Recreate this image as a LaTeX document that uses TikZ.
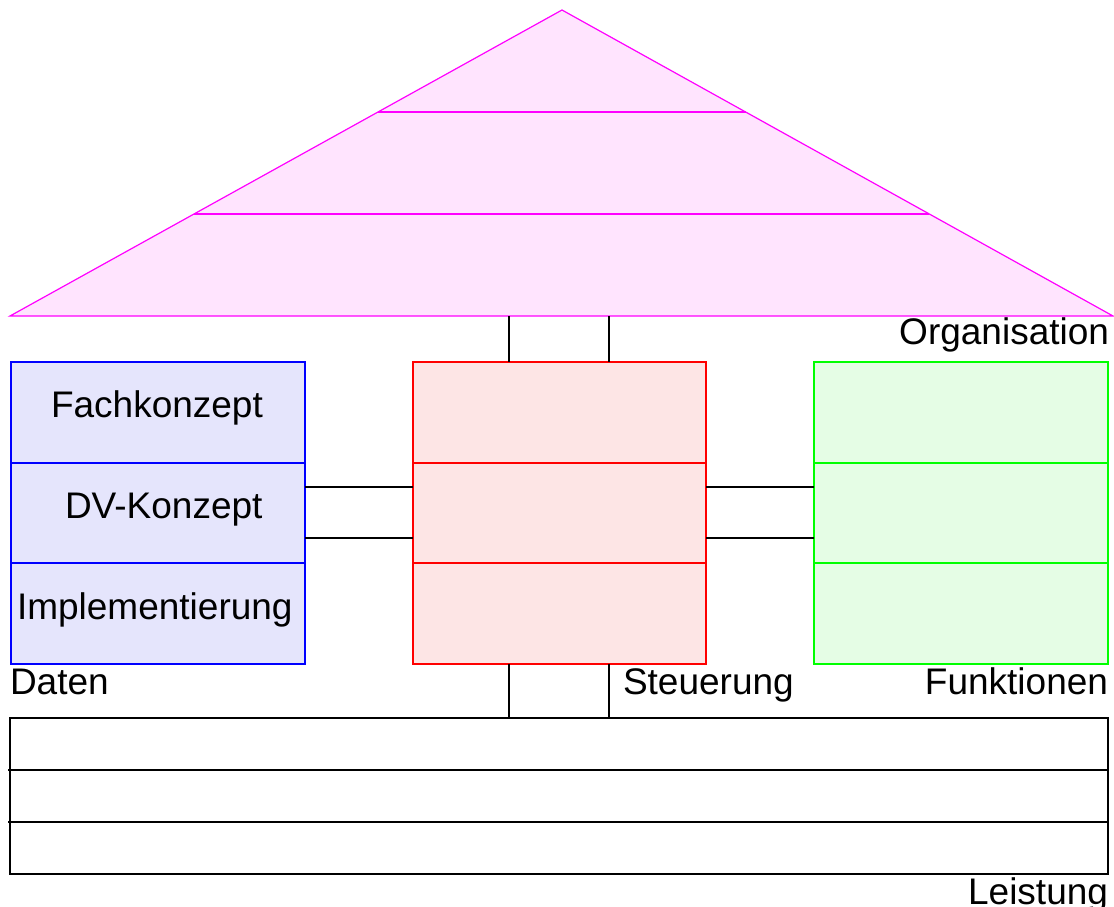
\documentclass[tikz,border=0pt]{standalone}
\usepackage{fontspec}
\setmainfont{Liberation Sans}
\usetikzlibrary{calc,backgrounds}
\definecolor{roofline}{RGB}{255,0,255}
\definecolor{rooffill}{RGB}{255,228,254}
\definecolor{bluefill}{RGB}{229,229,252}
\definecolor{redfill}{RGB}{253,229,229}
\definecolor{greenfill}{RGB}{229,253,229}
\definecolor{bluel}{RGB}{0,0,255}
\definecolor{redl}{RGB}{255,0,0}
\definecolor{greenl}{RGB}{0,255,0}
\begin{document}
\begin{tikzpicture}[x=1pt,y=-1pt,
  cell/.style={draw, line width=1.4pt, inner sep=0pt, outer sep=0pt, minimum height=101pt},
  mid/.style={minimum height=100pt},
  dcell/.style={cell, draw=bluel, minimum width=294pt},
  scell/.style={cell, draw=redl, minimum width=293pt},
  fcell/.style={cell, draw=greenl, minimum width=294pt},
  lcell/.style={draw=black, line width=1.4pt, inner sep=0pt, outer sep=0pt, minimum width=1098pt, minimum height=52pt},
  conn/.style={draw=black, line width=1.4pt},
  txt/.style={inner sep=0pt, outer sep=0pt, font=\fontsize{37}{40}\selectfont}
]
\useasboundingbox (0,0) rectangle (1114,906);
% roof
\coordinate (apex) at (562,10);
\coordinate (bl) at (10,316);
\coordinate (br) at (1113,316);
\draw[draw=roofline, fill=rooffill, line width=1.2pt, line join=miter] (apex) -- (br) -- (bl) -- cycle;
\draw[draw=roofline, line width=1.2pt] ($(apex)!0.3333!(bl)$) -- ($(apex)!0.3333!(br)$);
\draw[draw=roofline, line width=1.2pt] ($(apex)!0.6667!(bl)$) -- ($(apex)!0.6667!(br)$);
\node[txt, anchor=base east] (org) at (1109,344) {Organisation};
% data
\node[dcell] (d1) at (158,412.5) {};
\node[dcell, mid] (d2) at (158,513) {};
\node[dcell] (d3) at (158,613.5) {};
\node[txt, anchor=base west] (t1) at (51,417) {Fachkonzept};
\node[txt, anchor=base west] (t2) at (65,518) {DV-Konzept};
\node[txt, anchor=base west] (t3) at (17,619) {Implementierung};
% control
\node[scell] (s1) at (559.5,412.5) {};
\node[scell, mid] (s2) at (559.5,513) {};
\node[scell] (s3) at (559.5,613.5) {};
% functions
\node[fcell] (f1) at (961,412.5) {};
\node[fcell, mid] (f2) at (961,513) {};
\node[fcell] (f3) at (961,613.5) {};
% fills behind the cells
\begin{scope}[on background layer]
  \fill[bluefill] (d1.north west) rectangle (d3.south east);
  \fill[redfill] (s1.north west) rectangle (s3.south east);
  \fill[greenfill] (f1.north west) rectangle (f3.south east);
\end{scope}
% performance
\node[lcell] (l1) at (559,744) {};
\node[lcell] (l2) at (559,796) {};
\node[lcell] (l3) at (559,848) {};
\draw[conn] ([xshift=-2pt]l2.north west) -- (l2.north west);
\draw[conn] ([xshift=-2pt]l3.north west) -- (l3.north west);
% labels
\node[txt, anchor=base west] (daten) at (10,694) {Daten};
\node[txt, anchor=base west] (steu) at (623,694) {Steuerung};
\node[txt, anchor=base east] (funk) at (1108,694) {Funktionen};
\node[txt, anchor=base east] (leist) at (1108,904) {Leistung};
% connectors
\coordinate (ra) at (509,316);
\coordinate (rb) at (609,316);
\draw[conn] (ra) -- (ra |- s1.north);
\draw[conn] (rb) -- (rb |- s1.north);
\coordinate (ya) at (0,487);
\coordinate (yb) at (0,538);
\draw[conn] (d2.east |- ya) -- (s2.west |- ya);
\draw[conn] (d2.east |- yb) -- (s2.west |- yb);
\draw[conn] (s2.east |- ya) -- (f2.west |- ya);
\draw[conn] (s2.east |- yb) -- (f2.west |- yb);
\draw[conn] (ra |- s3.south) -- (ra |- l1.north);
\draw[conn] (rb |- s3.south) -- (rb |- l1.north);
\end{tikzpicture}
\end{document}
